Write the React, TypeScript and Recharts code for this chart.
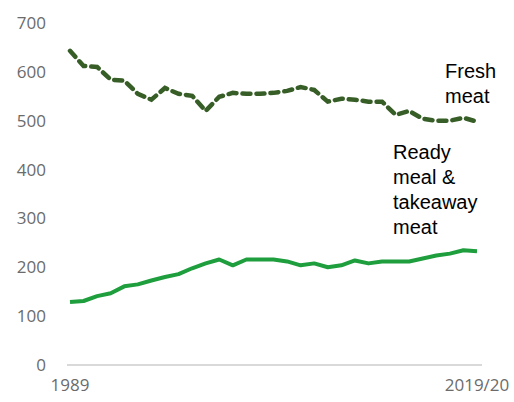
import { LineChart, Line, XAxis, YAxis } from 'recharts'

const years = [
  '1989', '1990', '1991', '1992', '1993', '1994', '1995', '1996', '1997', '1998',
  '1999', '2000', '2001', '2002', '2003', '2004', '2005', '2006', '2007', '2008',
  '2009', '2010', '2011', '2012', '2013', '2014', '2015', '2016', '2017', '2018',
  '2019/20',
]

const freshMeat = [
  643, 612, 610, 584, 582, 555, 543, 567, 555, 551,
  520, 549, 557, 555, 555, 557, 561, 569, 563, 539,
  545, 543, 539, 539, 512, 520, 504, 500, 500, 506,
  498,
]

const readyMeal = [
  129, 131, 141, 147, 161, 165, 173, 180, 186, 198,
  208, 216, 204, 216, 216, 216, 212, 204, 208, 200,
  204, 214, 208, 212, 212, 212, 218, 224, 228, 235,
  233,
]

const yTicks = [0, 100, 200, 300, 400, 500, 600, 700]
const xTicks = ['1989', '2019/20']

const data = years.map((year, i) => ({
  year,
  fresh: freshMeat[i],
  ready: readyMeal[i],
}))

const tickStyle = { fill: '#6b6b6b', fontSize: 17, fontFamily: '"Open Sans", sans-serif' }
const labelStyle = {
  position: 'absolute' as const,
  fontFamily: '"Liberation Sans", Arial, sans-serif',
  fontSize: 20,
  lineHeight: '25px',
  color: '#000',
}

export default function App() {
  return (
    <div style={{ position: 'absolute', left: 0, top: 0, width: 514, height: 402, background: '#fff' }}>
      <LineChart
        width={514}
        height={402}
        data={data}
        margin={{ top: 23, right: 32, left: 0, bottom: 0 }}
      >
        <XAxis
          dataKey="year"
          ticks={xTicks}
          interval={0}
          tickLine={false}
          axisLine={{ stroke: '#d9d9d9', strokeWidth: 2 }}
          tick={tickStyle}
          tickMargin={8}
          height={37}
          padding={{ left: 3, right: 5 }}
        />
        <YAxis
          domain={[0, 700]}
          ticks={yTicks}
          tickLine={false}
          axisLine={false}
          tick={tickStyle}
          tickMargin={15}
          width={67}
        />
        <Line
          dataKey="fresh"
          stroke="#375e27"
          strokeWidth={4.5}
          strokeDasharray="8 6"
          strokeLinecap="round"
          dot={false}
          isAnimationActive={false}
        />
        <Line
          dataKey="ready"
          stroke="#1f9e3e"
          strokeWidth={4}
          strokeLinejoin="round"
          dot={false}
          isAnimationActive={false}
        />
      </LineChart>
      <div style={{ ...labelStyle, left: 445, top: 59 }}>
        Fresh<br />meat
      </div>
      <div style={{ ...labelStyle, left: 393, top: 140 }}>
        Ready<br />meal &amp;<br />takeaway<br />meat
      </div>
    </div>
  )
}
